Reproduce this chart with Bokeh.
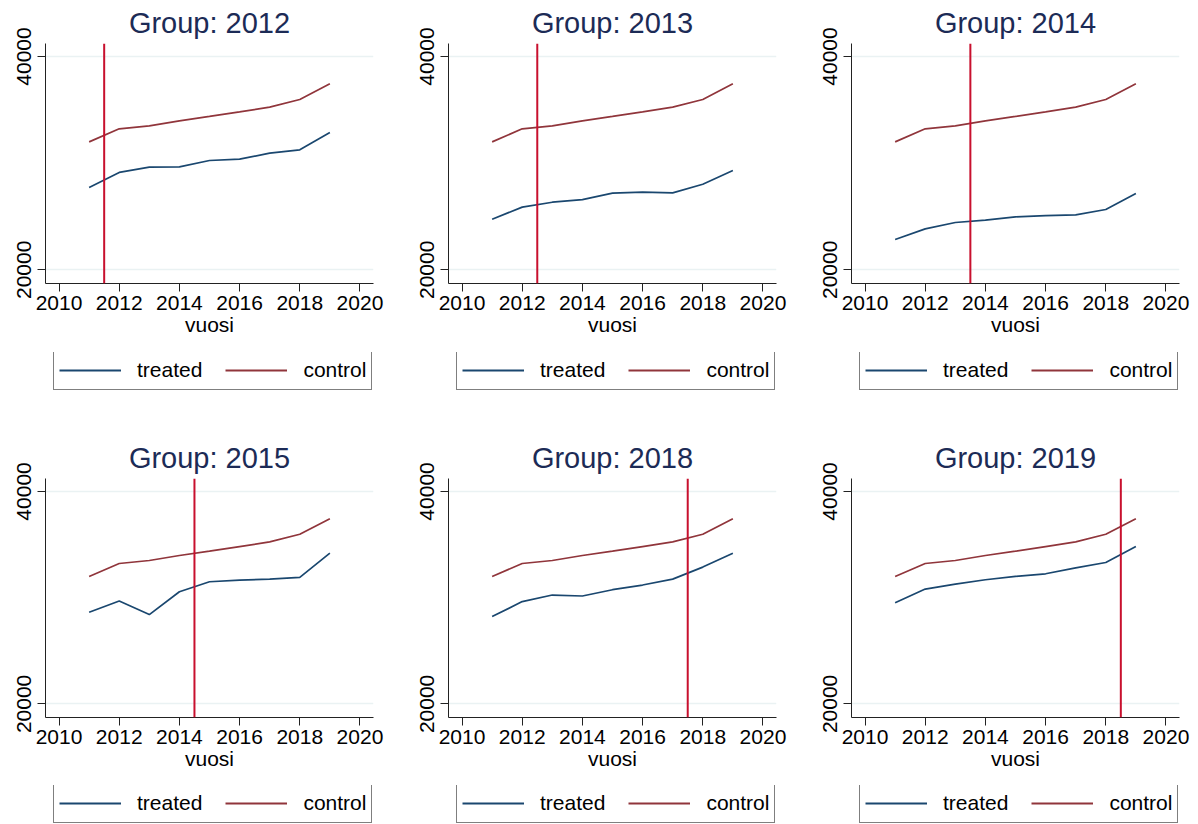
from bokeh.plotting import figure
from bokeh.models import Legend, LegendItem, Span, FixedTicker, Range1d
from bokeh.layouts import column, row
from bokeh.embed import file_html
from bokeh.resources import INLINE

years = [2011, 2012, 2013, 2014, 2015, 2016, 2017, 2018, 2019]
control = [32000, 33220, 33500, 33970, 34380, 34810, 35250, 35970, 37440]
treated_2012 = [27720, 29130, 29630, 29660, 30250, 30380, 30940, 31250, 32880]
treated_2013 = [24750, 25880, 26340, 26590, 27190, 27280, 27220, 28030, 29310]
treated_2014 = [22840, 23840, 24440, 24660, 24970, 25090, 25160, 25660, 27160]
treated_2015 = [28630, 29690, 28410, 30560, 31500, 31660, 31750, 31910, 34190]
treated_2018 = [28220, 29630, 30250, 30160, 30750, 31190, 31750, 32880, 34190]
treated_2019 = [29530, 30810, 31280, 31690, 32000, 32250, 32810, 33310, 34810]
groups = [2012, 2013, 2014, 2015, 2018, 2019]
treated_series = [treated_2012, treated_2013, treated_2014, treated_2015, treated_2018, treated_2019]
treatment_start = [2011.5, 2012.5, 2013.5, 2014.5, 2017.5, 2018.5]
x_ticks = [2010, 2012, 2014, 2016, 2018, 2020]
y_ticks = [20000, 40000]
legend_labels = ["treated", "control"]

FONT = "Liberation Sans"
TREATED_C = "#1a476f"
CONTROL_C = "#90353b"
VLINE_C = "#c8102e"
TITLE_C = "#1c2b56"
GRID_C = "#eaf2f3"
AXIS_C = "#222222"


def make_panel(i, top_row):
    col = i % 3
    width = 403 if col < 2 else 392
    right = width - 45 - 328
    if top_row:
        height, bottom, leg_h = 352, 69, 83
    else:
        height, bottom, leg_h = 350, 68, 39
    p = figure(width=width, height=height,
               output_backend="svg", toolbar_location=None,
               x_range=Range1d(2009.55, 2020.45), y_range=Range1d(18720, 41220),
               min_border_left=45, min_border_right=right, min_border_top=43,
               min_border_bottom=bottom)
    p.outline_line_color = None
    p.background_fill_color = "white"
    p.border_fill_color = "white"

    p.title.text = "Group: %d" % groups[i]
    p.title.align = "center"
    p.title.text_font = FONT
    p.title.text_font_size = "29px"
    p.title.text_font_style = "normal"
    p.title.text_color = TITLE_C
    p.title.standoff = 9

    p.line(years, treated_series[i], line_color=TREATED_C, line_width=1.7)
    p.line(years, control, line_color=CONTROL_C, line_width=1.7)
    p.add_layout(Span(location=treatment_start[i], dimension="height",
                      line_color=VLINE_C, line_width=2))

    p.xaxis.ticker = FixedTicker(ticks=x_ticks)
    p.yaxis.ticker = FixedTicker(ticks=y_ticks)
    p.xaxis.minor_tick_line_color = None
    p.yaxis.minor_tick_line_color = None
    for ax in (p.xaxis, p.yaxis):
        ax.axis_line_color = AXIS_C
        ax.major_tick_line_color = AXIS_C
        ax.major_tick_out = 8
        ax.major_tick_in = 0
        ax.major_label_text_font = FONT
        ax.major_label_text_font_size = "21px"
        ax.major_label_text_color = "black"
        ax.axis_label_text_font = FONT
        ax.axis_label_text_font_size = "21px"
        ax.axis_label_text_font_style = "normal"
        ax.axis_label_text_color = "black"
    p.xaxis.axis_label = "vuosi"
    p.xaxis.axis_label_standoff = 0
    p.xaxis.major_label_standoff = 4
    p.yaxis.major_label_orientation = "vertical"
    p.yaxis.major_label_standoff = 6

    p.xgrid.grid_line_color = None
    p.ygrid.grid_line_color = GRID_C
    p.ygrid.grid_line_width = 1.5
    p.ygrid.ticker = FixedTicker(ticks=y_ticks)

    # legend strip below the panel (frame aligned with the panel's frame)
    lf = figure(width=width, height=leg_h, output_backend="svg", toolbar_location=None,
                x_range=Range1d(0, 1), y_range=Range1d(0, 1),
                x_axis_location=None, y_axis_location=None,
                min_border_left=45, min_border_right=right, min_border_top=0,
                min_border_bottom=0)
    lf.outline_line_color = None
    lf.grid.visible = False
    lf.background_fill_color = "white"
    lf.border_fill_color = "white"
    # legend sample renderers: real series, lying outside this strip's ranges
    lr1 = lf.line(years, treated_series[i], line_color=TREATED_C, line_width=2)
    lr2 = lf.line(years, control, line_color=CONTROL_C, line_width=2)
    legend = Legend(items=[LegendItem(label=legend_labels[0], renderers=[lr1]),
                           LegendItem(label=legend_labels[1], renderers=[lr2])],
                    orientation="horizontal", location=(8, leg_h - 38),
                    label_text_font=FONT, label_text_font_size="21px",
                    label_text_color="black", label_height=28, glyph_height=28,
                    glyph_width=62, label_standoff=16, spacing=23,
                    padding=5, margin=0,
                    border_line_color="black", border_line_width=1.3,
                    background_fill_alpha=1.0)
    lf.add_layout(legend, "center")
    return column(p, lf)


panels = [make_panel(i, i < 3) for i in range(6)]
layout = column(row(*panels[:3]), row(*panels[3:]))

open("out.html", "w").write(file_html(layout, INLINE))
